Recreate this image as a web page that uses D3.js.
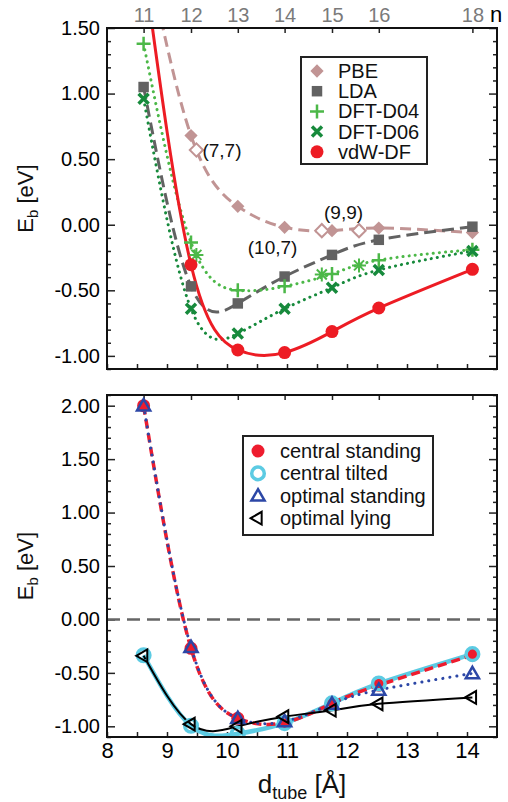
<!DOCTYPE html>
<html>
<head>
<meta charset="utf-8">
<script src="https://cdn.jsdelivr.net/npm/d3@7"></script>
<style>
  body { margin: 0; background: #fff; }
  svg text { font-family: "Liberation Sans", Arial, Helvetica, sans-serif; }
</style>
</head>
<body>
<div id="chart"></div>
<script>
// tube index n and the matching tube diameter (Å)
const nLabels = [11, 12, 13, 14, 15, 16, 18];
const dTube = [8.61, 9.40, 10.18, 10.96, 11.75, 12.53, 14.09];

// upper panel: binding energy (eV) for each functional
const methods = ["PBE", "LDA", "DFT-D04", "DFT-D06", "vdW-DF"];
const pbe    = [2.20, 0.68, 0.14, -0.02, -0.045, -0.025, -0.06];
const lda    = [1.05, -0.47, -0.60, -0.395, -0.23, -0.115, -0.015];
const dftD04 = [1.38, -0.135, -0.50, -0.47, -0.375, -0.27, -0.19];
const dftD06 = [0.96, -0.64, -0.83, -0.64, -0.48, -0.345, -0.20];
const vdwDF  = [2.00, -0.305, -0.955, -0.975, -0.815, -0.635, -0.34];

// chiral / armchair tubes (open symbols)
const chiralNames = ["(7,7)", "(10,7)", "(9,9)"];
const chiralD     = [9.49, 11.58, 12.20];
const pbeChiral   = [0.57, -0.045, -0.045];
const d04Chiral   = [-0.23, -0.38, -0.31];

// lower panel: vdW-DF for different molecule geometries
const geometries = ["central standing", "central tilted", "optimal standing", "optimal lying"];
const centralStanding = [2.00, -0.27, -0.925, -0.965, -0.785, -0.615, -0.335];
const centralTilted   = [-0.335, -0.995, -1.07, -0.97, -0.785, -0.60, -0.325];
const optimalStanding = [2.00, -0.26, -0.925, -0.955, -0.79, -0.66, -0.505];
const optimalLying    = [-0.34, -0.98, -1.00, -0.91, -0.85, -0.79, -0.73];

const xTicks = [8, 9, 10, 11, 12, 13, 14];
const yTopTicks = [-1.0, -0.5, 0, 0.5, 1.0, 1.5];
const yBotTicks = [-1.0, -0.5, 0, 0.5, 1.0, 1.5, 2.0];

const svg = d3.select("#chart").append("svg").attr("width", 508).attr("height", 802);
const defs = svg.append("defs");

const x = d3.scaleLinear().domain([8, 14.5]).range([107, 497]);
const yTop = d3.scaleLinear().domain([-1.1, 1.5]).range([369, 28]);
const yBot = d3.scaleLinear().domain([-1.1, 2.1]).range([737, 395]);

const tickStyle = s => {
  s.select(".domain").remove();
  s.selectAll("line").attr("stroke", "#222").attr("stroke-width", 1.5);
};

function axes(y, yMajor, id, topLabels, bottomLabels) {
  const [yb, yt] = y.range();
  const [x0, x1] = x.range();
  defs.append("clipPath").attr("id", id).append("rect")
    .attr("x", x0).attr("y", yt).attr("width", x1 - x0).attr("height", yb - yt);

  const lo = Math.round(y.domain()[0] * 10), hi = Math.round(y.domain()[1] * 10);
  const yMinor = d3.range(lo, hi + 1).map(v => v / 10)
    .filter(v => !yMajor.some(m => Math.abs(m - v) < 1e-6));
  const xMinor = xTicks.map(v => v + 0.5).filter(v => v < 14.5);

  const g = svg.append("g");
  g.append("g").attr("transform", `translate(${x0},0)`)
    .call(d3.axisLeft(y).tickValues(yMajor).tickSize(-8).tickPadding(7).tickFormat(d => d.toFixed(2)))
    .attr("font-size", 20).call(tickStyle);
  g.append("g").attr("transform", `translate(${x0},0)`)
    .call(d3.axisLeft(y).tickValues(yMinor).tickSize(-4).tickFormat("")).call(tickStyle);
  g.append("g").attr("transform", `translate(${x1},0)`)
    .call(d3.axisRight(y).tickValues(yMajor).tickSize(-8).tickFormat("")).call(tickStyle);
  g.append("g").attr("transform", `translate(${x1},0)`)
    .call(d3.axisRight(y).tickValues(yMinor).tickSize(-4).tickFormat("")).call(tickStyle);

  // bottom: diameter ticks
  g.append("g").attr("transform", `translate(0,${yb})`)
    .call(d3.axisBottom(x).tickValues(xTicks).tickSize(-5).tickPadding(5)
      .tickFormat(bottomLabels ? d => d : ""))
    .attr("font-size", 22).call(tickStyle);
  g.append("g").attr("transform", `translate(0,${yb})`)
    .call(d3.axisBottom(x).tickValues(xMinor).tickSize(-5).tickFormat("")).call(tickStyle);

  // top: tube index n
  const top = g.append("g").attr("transform", `translate(0,${yt})`)
    .call(d3.axisTop(x).tickValues(dTube).tickSize(-5).tickPadding(6)
      .tickFormat(topLabels ? (d, i) => nLabels[i] : ""))
    .attr("font-size", 20).call(tickStyle);
  top.selectAll("text").attr("fill", "#7a7a7a");
  if (topLabels) {
    g.append("text").attr("x", x1 - 7).attr("y", yt - 6).attr("font-size", 22)
      .attr("fill", "#000").text("n");
  }

  // y title
  const t = g.append("text").attr("transform", `translate(33,${(yt + yb) / 2}) rotate(-90)`)
    .attr("text-anchor", "middle").attr("font-size", 22).attr("fill", "#111");
  t.append("tspan").text("E");
  t.append("tspan").attr("font-size", 15).attr("dy", 5).text("b");
  t.append("tspan").attr("dy", -5).text(" [eV]");

  return g;
}

function frame(y) {
  const [yb, yt] = y.range();
  svg.append("rect").attr("x", x.range()[0]).attr("y", yt)
    .attr("width", x.range()[1] - x.range()[0]).attr("height", yb - yt)
    .attr("fill", "none").attr("stroke", "#111").attr("stroke-width", 2);
}

// marker shapes
function marker(parent, type, color, px, py) {
  const s = parent.append("g").attr("transform", `translate(${px},${py})`);
  if (type === "diamond" || type === "diamondOpen") {
    s.append("path").attr("d", d3.symbol(d3.symbolSquare, 88)())
      .attr("transform", "rotate(45)")
      .attr("fill", type === "diamond" ? color : "#fff")
      .attr("stroke", color).attr("stroke-width", type === "diamond" ? 0 : 2);
  } else if (type === "square") {
    s.append("path").attr("d", d3.symbol(d3.symbolSquare, 110)()).attr("fill", color);
  } else if (type === "plus") {
    s.append("path").attr("d", "M-7,0H7M0,-7V7").attr("stroke", color).attr("stroke-width", 2.5);
  } else if (type === "cross") {
    s.append("path").attr("d", "M-5,-5L5,5M-5,5L5,-5").attr("stroke", color).attr("stroke-width", 3.5);
  } else if (type === "star") {
    s.append("path").attr("d", "M-7,0H7M0,-7V7M-5,-5L5,5M-5,5L5,-5").attr("stroke", color).attr("stroke-width", 2);
  } else if (type === "dot") {
    s.append("circle").attr("r", 6.5).attr("fill", color);
  } else if (type === "ring") {
    s.append("circle").attr("r", 6.3).attr("fill", "none").attr("stroke", color).attr("stroke-width", 3.5);
  } else if (type === "triUp") {
    s.append("path").attr("d", d3.symbol(d3.symbolTriangle, 75)()).attr("transform", "translate(0,1)")
      .attr("fill", "none").attr("stroke", color).attr("stroke-width", 2.5);
  } else if (type === "triLeft") {
    s.append("path").attr("d", d3.symbol(d3.symbolTriangle, 70)()).attr("transform", "rotate(-90)")
      .attr("fill", "none").attr("stroke", color).attr("stroke-width", 2);
  }
}

function series(g, y, xs, vals, col, width, dash, cap) {
  const line = d3.line().x((d, i) => x(xs[i])).y(d => y(d)).curve(d3.curveNatural);
  g.append("path").attr("d", line(vals)).attr("fill", "none")
    .attr("stroke", col).attr("stroke-width", width)
    .attr("stroke-dasharray", dash).attr("stroke-linecap", cap || "butt");
}

function marks(g, y, xs, vals, type, col) {
  vals.forEach((v, i) => marker(g, type, col, x(xs[i]), y(v)));
}

// ---------- upper panel ----------
const colPBE = "#c19494", colLDA = "#626262", colD04 = "#4cb848", colD06 = "#178a3c", colVdw = "#ed1c24";
axes(yTop, yTopTicks, "clipTop", true, false);
const gt = svg.append("g").attr("clip-path", "url(#clipTop)");
series(gt, yTop, dTube, pbe, colPBE, 3, "11,6");
series(gt, yTop, dTube, lda, colLDA, 3, "12,6");
series(gt, yTop, dTube, dftD04, colD04, 3, "0.1,6", "round");
series(gt, yTop, dTube, dftD06, colD06, 3, "0.1,6", "round");
series(gt, yTop, dTube, vdwDF, colVdw, 3, null);
marks(gt, yTop, dTube, pbe, "diamond", colPBE);
marks(gt, yTop, chiralD, pbeChiral, "diamondOpen", colPBE);
marks(gt, yTop, dTube, lda, "square", colLDA);
marks(gt, yTop, dTube, dftD04, "plus", colD04);
marks(gt, yTop, chiralD, d04Chiral, "star", colD04);
marks(gt, yTop, dTube, dftD06, "cross", colD06);
marks(gt, yTop, dTube, vdwDF, "dot", colVdw);

// annotations of chiral tubes, anchored on their points
const chiralAnchor = [pbeChiral[0], d04Chiral[1], pbeChiral[2]];
const chiralOffset = [[6, 7], [-74, -21], [-35, -12]];
chiralNames.forEach((name, i) => {
  svg.append("text").attr("x", x(chiralD[i]) + chiralOffset[i][0])
    .attr("y", yTop(chiralAnchor[i]) + chiralOffset[i][1])
    .attr("font-size", 19).attr("fill", "#111").text(name);
});

// legend top
const topKeys = [["diamond", colPBE], ["square", colLDA], ["plus", colD04], ["cross", colD06], ["dot", colVdw]];
const lt = svg.append("g");
lt.append("rect").attr("x", 301).attr("y", 57).attr("width", 126).attr("height", 107)
  .attr("fill", "#fff").attr("stroke", "#222").attr("stroke-width", 2);
methods.forEach((m, i) => {
  const yy = 71 + i * 20.2;
  marker(lt, topKeys[i][0], topKeys[i][1], 317, yy);
  lt.append("text").attr("x", 338).attr("y", yy + 7).attr("font-size", 20).attr("fill", "#111").text(m);
});
frame(yTop);

// ---------- lower panel ----------
const colCS = "#ee1c2e", colCT = "#5ccbe3", colOS = "#2c47a6", colOL = "#000";
axes(yBot, yBotTicks, "clipBot", false, true);
const gb = svg.append("g").attr("clip-path", "url(#clipBot)");
gb.append("line").attr("x1", x(8)).attr("x2", x(14.5)).attr("y1", yBot(0)).attr("y2", yBot(0))
  .attr("stroke", "#666").attr("stroke-width", 2.5).attr("stroke-dasharray", "13,7");
series(gb, yBot, dTube, centralTilted, colCT, 4.5, null);
series(gb, yBot, dTube, centralStanding, colCS, 3.5, "9,5");
series(gb, yBot, dTube, optimalStanding, colOS, 3, "0.1,7", "round");
series(gb, yBot, dTube, optimalLying, colOL, 2, null);
marks(gb, yBot, dTube, centralStanding, "dot", colCS);
marks(gb, yBot, dTube, centralTilted, "ring", colCT);
marks(gb, yBot, dTube, optimalStanding, "triUp", colOS);
marks(gb, yBot, dTube, optimalLying, "triLeft", colOL);

const botKeys = [["dot", colCS], ["ring", colCT], ["triUp", colOS], ["triLeft", colOL]];
const lb = svg.append("g");
lb.append("rect").attr("x", 243).attr("y", 436).attr("width", 190).attr("height", 99)
  .attr("fill", "#fff").attr("stroke", "#222").attr("stroke-width", 2);
geometries.forEach((m, i) => {
  const yy = 451 + i * 22.4;
  marker(lb, botKeys[i][0], botKeys[i][1], 258, yy);
  lb.append("text").attr("x", 280).attr("y", yy + 7).attr("font-size", 20).attr("fill", "#111").text(m);
});
frame(yBot);

// x title
const xt = svg.append("text").attr("x", 302).attr("y", 793).attr("text-anchor", "middle")
  .attr("font-size", 26).attr("fill", "#111");
xt.append("tspan").text("d");
xt.append("tspan").attr("font-size", 18).attr("dy", 6).text("tube");
xt.append("tspan").attr("dy", -6).text(" [Å]");
</script>
</body>
</html>
